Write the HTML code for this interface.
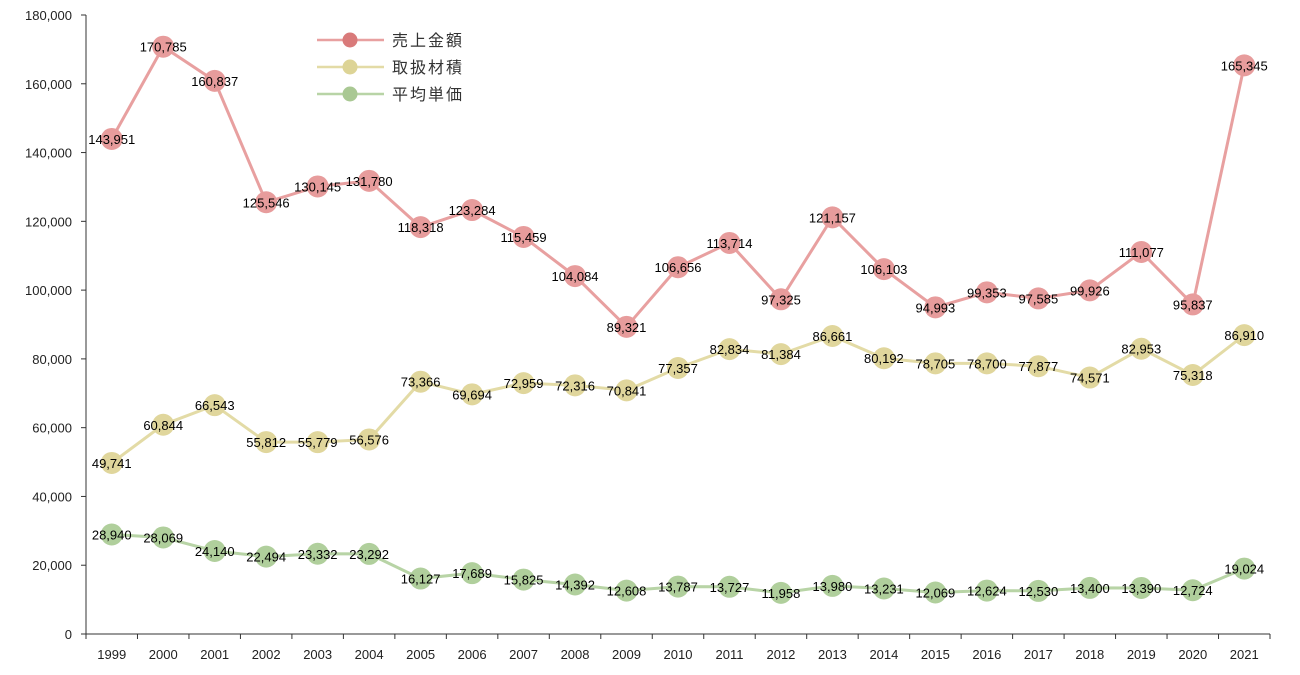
<!DOCTYPE html>
<html><head><meta charset="utf-8"><style>
body{margin:0;background:#fff;}
svg text{font-family:"Liberation Sans","Noto Sans CJK JP",sans-serif;}
</style></head><body>
<svg id="chart" width="1300" height="670" xmlns="http://www.w3.org/2000/svg"></svg>
<script>
const years=["1999","2000","2001","2002","2003","2004","2005","2006","2007","2008","2009","2010","2011","2012","2013","2014","2015","2016","2017","2018","2019","2020","2021"];
const sales=[143951,170785,160837,125546,130145,131780,118318,123284,115459,104084,89321,106656,113714,97325,121157,106103,94993,99353,97585,99926,111077,95837,165345];
const volume=[49741,60844,66543,55812,55779,56576,73366,69694,72959,72316,70841,77357,82834,81384,86661,80192,78705,78700,77877,74571,82953,75318,86910];
const unitPrice=[28940,28069,24140,22494,23332,23292,16127,17689,15825,14392,12608,13787,13727,11958,13980,13231,12069,12624,12530,13400,13390,12724,19024];
const yTicks=[0,20000,40000,60000,80000,100000,120000,140000,160000,180000];
const seriesNames=["売上金額","取扱材積","平均単価"];

const NS="http://www.w3.org/2000/svg";
const svg=document.getElementById('chart');
const L=86,R=1270,T=15,B=634,YMAX=180000;
const band=(R-L)/years.length;
const xS=i=>L+band*(i+0.5);
const yS=v=>B-(v/YMAX)*(B-T);
function mk(tag,attrs){const e=document.createElementNS(NS,tag);for(const k in attrs)e.setAttribute(k,attrs[k]);svg.appendChild(e);return e;}
const fmt=v=>v.toLocaleString('en-US');

// axes
let e=mk('line',{x1:L,y1:T,x2:L,y2:B,stroke:'#333','stroke-width':1});


e=mk('line',{x1:L,y1:B,x2:R,y2:B,stroke:'#333','stroke-width':1});


yTicks.forEach(v=>{
  const y=yS(v);
  mk('line',{x1:L-5,y1:y,x2:L,y2:y,stroke:'#333'});
  const t=mk('text',{x:L-14,y:y+5,'text-anchor':'end','font-size':13,fill:'#222'});
  t.textContent=fmt(v);
  
  
});
for(let i=0;i<=years.length;i++){
  const x=L+band*i;
  mk('line',{x1:x,y1:B,x2:x,y2:B+5,stroke:'#333'});
}
years.forEach((yr,i)=>{
  const t=mk('text',{x:xS(i),y:B+25,'text-anchor':'middle','font-size':13,fill:'#222'});
  t.textContent=yr;
  
  
});

const series=[
 {data:sales,line:'#e8a0a0',mark:'#e79c9c',name:'sales'},
 {data:volume,line:'#e3dba6',mark:'#e0d69c',name:'volume'},
 {data:unitPrice,line:'#b8d4a6',mark:'#b0cf9c',name:'unit-price'}
];
series.forEach(s=>{
  const pts=s.data.map((v,i)=>xS(i)+','+yS(v)).join(' ');
  const pl=mk('polyline',{points:pts,fill:'none',stroke:s.line,'stroke-width':3});
  
  
  s.data.forEach((v,i)=>{
    const c=mk('circle',{cx:xS(i),cy:yS(v),r:11,fill:s.mark});
    
    
  });
});
series.forEach(s=>{
  s.data.forEach((v,i)=>{
    const t=mk('text',{x:xS(i),y:yS(v)+5,'text-anchor':'middle','font-size':13,fill:'#000'});
    t.textContent=fmt(v);
    
    
  });
});
// legend
const legColors=['#e8a0a0','#e3dba6','#b8d4a6'];
const legMarks=['#d97a7a','#ddd496','#a9c893'];
seriesNames.forEach((n,i)=>{
  const y=40+i*27;
  const g=document.createElementNS(NS,'g');
  
  
  svg.appendChild(g);
  const ln=document.createElementNS(NS,'line');
  [['x1',317],['y1',y],['x2',384],['y2',y],['stroke',legColors[i]],['stroke-width',2.5]].forEach(a=>ln.setAttribute(a[0],a[1]));
  g.appendChild(ln);
  const c=document.createElementNS(NS,'circle');
  [['cx',350],['cy',y],['r',7.5],['fill',legMarks[i]]].forEach(a=>c.setAttribute(a[0],a[1]));
  g.appendChild(c);
  const t=document.createElementNS(NS,'text');
  [['x',392],['y',y+6],['font-size',16],['fill','#333'],['letter-spacing','2']].forEach(a=>t.setAttribute(a[0],a[1]));
  t.textContent=n;
  g.appendChild(t);
});
</script>
</body></html>
